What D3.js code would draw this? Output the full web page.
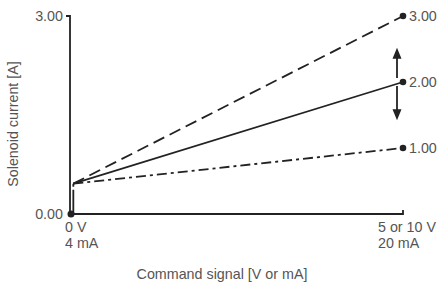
<!DOCTYPE html>
<html>
<head>
<meta charset="utf-8">
<script src="https://cdn.jsdelivr.net/npm/d3@7"></script>
<style>
  body { margin: 0; background: #fff; }
  text { font-family: "Liberation Sans", Arial, sans-serif; fill: #555; font-size: 14.3px; }
</style>
</head>
<body>
<svg id="chart" width="438" height="284"></svg>
<script>
// Signal range (percent of full command) and current values
const signalDomain = [0, 100];
const currentDomain = [0, 3];
const yTicks = [0, 3];
const startSignal = 1;
const startCurrent = 0.46;
const endCurrents = [3.0, 2.0, 1.0];
const endLabels = ["3.00", "2.00", "1.00"];
const lineDashes = ["12,6", null, "10,4,3,4"];
const xTickLabels = [["0 V", "4 mA"], ["5 or 10 V", "20 mA"]];

const svg = d3.select("#chart");
const x = d3.scaleLinear().domain(signalDomain).range([70, 403]);
const y = d3.scaleLinear().domain(currentDomain).range([214, 16]);
const ink = "#222";

// Axes
svg.append("path")
  .attr("d", `M${x(0) - 4},${y(3)}H${x(0)}V${y(0)}H${x(100)}V${y(0) - 4}`)
  .attr("fill", "none").attr("stroke", ink).attr("stroke-width", 1.8);

// Y tick labels
svg.selectAll(".ytick").data(yTicks).join("text")
  .attr("x", x(0) - 7).attr("y", d => y(d))
  .attr("dy", "0.35em").attr("text-anchor", "end")
  .text(d => d.toFixed(2));

// X tick labels
svg.selectAll(".xtick").data(xTickLabels).join("text")
  .attr("x", (d, i) => i === 0 ? x(0) - 5 : x(100) - 25)
  .attr("y", 232)
  .selectAll("tspan").data(d => d).join("tspan")
  .attr("x", function () { return this.parentNode.getAttribute("x"); })
  .attr("dy", (d, i) => i === 0 ? 0 : 16)
  .text(d => d);

// Axis titles
svg.append("text").attr("x", 222).attr("y", 279).attr("text-anchor", "middle")
  .text("Command signal [V or mA]");
svg.append("text").attr("transform", `translate(18,124) rotate(-90)`)
  .attr("text-anchor", "middle").text("Solenoid current [A]");

// Jump from zero to start value
svg.append("line")
  .attr("x1", x(startSignal)).attr("x2", x(startSignal))
  .attr("y1", y(startCurrent)).attr("y2", y(0))
  .attr("stroke", ink).attr("stroke-width", 1.8)
  .attr("stroke-dasharray", "3,3,40");

// Characteristic lines
svg.selectAll(".curve").data(endCurrents).join("line")
  .attr("x1", x(startSignal)).attr("y1", y(startCurrent))
  .attr("x2", x(100)).attr("y2", d => y(d))
  .attr("stroke", ink).attr("stroke-width", 1.8)
  .attr("stroke-dasharray", (d, i) => lineDashes[i]);

// End points and labels
svg.selectAll(".dot").data(endCurrents).join("circle")
  .attr("cx", x(100)).attr("cy", d => y(d)).attr("r", 3.3).attr("fill", ink);
svg.selectAll(".endlabel").data(endCurrents).join("text")
  .attr("x", x(100) + 6).attr("y", d => y(d)).attr("dy", "0.35em")
  .text((d, i) => endLabels[i]);

// Origin dot
svg.append("circle").attr("cx", x(0) + 1).attr("cy", y(0)).attr("r", 3.5).attr("fill", ink);

// Adjustment arrows
const ax = x(100) - 6;
[[2.06, 2.52], [1.94, 1.42]].forEach(([a, b]) => {
  const ya = y(a), yb = y(b), dir = yb < ya ? -1 : 1;
  svg.append("line").attr("x1", ax).attr("x2", ax).attr("y1", ya).attr("y2", yb - dir * 8)
    .attr("stroke", ink).attr("stroke-width", 1.8);
  svg.append("path")
    .attr("d", `M${ax},${yb}L${ax - 4.5},${yb - dir * 11}L${ax + 4.5},${yb - dir * 11}Z`)
    .attr("fill", ink);
});
</script>
</body>
</html>
